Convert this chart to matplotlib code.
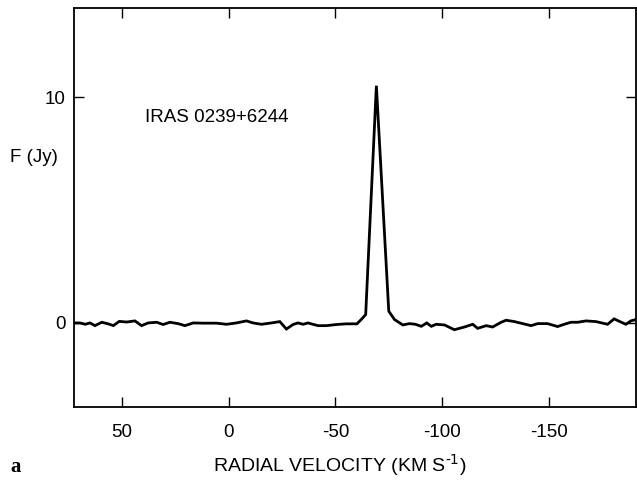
import matplotlib.pyplot as plt

plt.rcParams['font.family'] = ['Liberation Sans', 'DejaVu Sans']
plt.rcParams['axes.unicode_minus'] = False
plt.rcParams['mathtext.default'] = 'regular'

# Spectrum of IRAS 0239+6244
velocity = [71.8, 69.5, 67.1, 64.8, 62.5, 59.3, 56.3, 53.9, 51.1, 47.7,
            43.8, 40.7, 37.6, 33.6, 30.6, 27.4, 23.6, 20.4, 16.5, 11.9,
            5.6, 0.9, -3.7, -8.4, -11.5, -15.4, -20.1, -24.0, -27.1, -30.2,
            -32.5, -34.9, -37.2, -39.5, -41.9, -45.8, -50.5, -55.1, -60.1, -62.1,
            -64.2, -69.2, -75.0, -77.7, -81.6, -84.7, -87.5, -90.2, -92.8, -94.9,
            -97.2, -101.1, -105.7, -110.4, -114.3, -116.6, -120.6, -123.6, -127.6, -129.9,
            -133.8, -137.7, -141.6, -144.7, -149.3, -154.0, -157.1, -160.3, -163.4, -167.3,
            -172.0, -177.4, -180.5, -182.9, -186.0, -188.3, -190.7]
flux = [0.0, 0.0, -0.06, 0.0, -0.12, 0.03, -0.04, -0.12, 0.07, 0.04,
        0.09, -0.12, 0.0, 0.03, -0.07, 0.03, -0.03, -0.12, 0.0, -0.01,
        -0.01, -0.06, 0.0, 0.09, 0.0, -0.06, 0.0, 0.06, -0.27, -0.07,
        0.0, -0.06, 0.0, -0.06, -0.12, -0.12, -0.07, -0.04, -0.04, 0.15,
        0.37, 10.5, 0.52, 0.15, -0.09, -0.03, -0.06, -0.15, 0.0, -0.15,
        -0.06, -0.09, -0.3, -0.18, -0.06, -0.24, -0.12, -0.18, 0.03, 0.12,
        0.06, -0.03, -0.12, -0.03, -0.03, -0.16, -0.06, 0.03, 0.03, 0.09,
        0.06, -0.06, 0.18, 0.07, -0.06, 0.09, 0.15]

xticks = [50, 0, -50, -100, -150]
yticks = [0, 10]

fig = plt.figure(figsize=(6.37, 4.87), dpi=100)
ax = fig.add_axes([0.1162, 0.1643, 0.8822, 0.8193])

ax.plot(velocity, flux, color='black', lw=2.0, solid_joinstyle='miter')

ax.set_xlim(72.3, -190.7)
ax.set_ylim(-3.72, 13.94)
ax.set_xticks(xticks)
ax.set_yticks(yticks)
ax.tick_params(direction='in', length=7, width=1, top=True, right=True,
               labelsize=13.5)
ax.tick_params(axis='x', pad=12)
ax.tick_params(axis='y', pad=6)
for s in ax.spines.values():
    s.set_linewidth(1.3)

ax.text(5.4, 9.1, 'IRAS 0239+6244', fontsize=13.5, ha='center', va='center')

fig.text(10 / 637, 1 - 158 / 487, 'F (Jy)', fontsize=13.5, ha='left', va='center')
fig.text(340 / 637, 1 - 465 / 487, 'RADIAL VELOCITY (KM S$^{\\text{-1}}$)',
         fontsize=14, ha='center', va='center')
fig.text(16 / 637, 1 - 467 / 487, 'a', fontsize=15, fontweight='bold',
         family='Liberation Serif', ha='center', va='center')

fig.savefig('out.png', dpi=100)
